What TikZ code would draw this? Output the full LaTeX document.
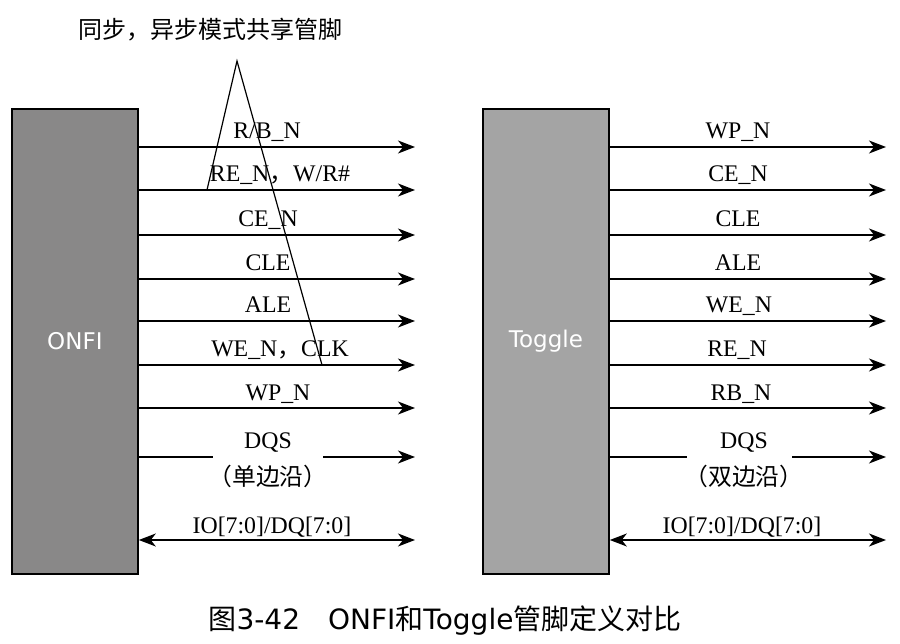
\documentclass[tikz,border=0pt]{standalone}
\usepackage{fontspec}
\setmainfont{Liberation Serif}
\setsansfont{DejaVu Sans}
\newfontfamily\cjk{Noto Sans CJK SC}
\usetikzlibrary{arrows.meta}

\definecolor{onfigray}{HTML}{898888}
\definecolor{togglegray}{HTML}{A4A4A4}

\tikzset{
  tip/.tip={Stealth[length=17pt,width=13pt,inset=5pt]},
  chip/.style={draw=black, line width=1.8pt, minimum width=126pt, minimum height=465pt,
    inner sep=0pt, text=white, font=\sffamily\fontsize{23}{26}\selectfont},
  sig/.style={line width=1.3pt, -tip},
  bus/.style={line width=1.3pt, tip-tip},
  plain/.style={line width=1.3pt},
  siglabel/.style={anchor=base, inner sep=0pt, font=\fontsize{23.8}{28}\selectfont},
  callout/.style={line width=1.2pt},
}

\begin{document}
\begin{tikzpicture}[x=1pt, y=-1pt]
  \useasboundingbox (0,0) rectangle (900,644);

  % the two chips
  \node[chip, fill=onfigray, anchor=north west] (onfi) at (11,108) {ONFI};
  \node[chip, fill=togglegray, anchor=north west] (toggle) at (482,108) {Toggle};

  % ONFI signals: line height / label centre / label
  \foreach \y/\x/\t [count=\i] in {
      147/267/{R/B\_N},
      190/280/{RE\_N{\cjk ，}W/R\#},
      235/268/{CE\_N},
      279/268/{CLE},
      321/268/{ALE},
      365/280/{WE\_N{\cjk ，}CLK},
      408/278/{WP\_N}} {
    \coordinate (oe\i) at (415,\y);
    \draw[sig] (onfi.east |- oe\i) -- (oe\i);
    \node[siglabel] (ol\i) at (\x,\y-8) {\t};
  }

  % Toggle signals
  \foreach \y/\x/\t [count=\i] in {
      147/738/{WP\_N},
      190/738/{CE\_N},
      235/738/{CLE},
      279/738/{ALE},
      321/739/{WE\_N},
      365/737/{RE\_N},
      408/741/{RB\_N}} {
    \coordinate (te\i) at (886,\y);
    \draw[sig] (toggle.east |- te\i) -- (te\i);
    \node[siglabel] (tl\i) at (\x,\y-8) {\t};
  }

  % DQS, drawn with a gap for its two-line label
  \coordinate (odqsA) at (213,457);
  \coordinate (odqsB) at (323,457);
  \coordinate (odqsE) at (415,457);
  \draw[plain] (onfi.east |- odqsA) -- (odqsA);
  \draw[sig] (odqsB) -- (odqsE);
  \node[siglabel] (odqs) at (268,448) {DQS};
  \node[siglabel] (odqsn) at (268,485) {\cjk （单边沿）};

  \coordinate (tdqsA) at (687,457);
  \coordinate (tdqsB) at (792,457);
  \coordinate (tdqsE) at (886,457);
  \draw[plain] (toggle.east |- tdqsA) -- (tdqsA);
  \draw[sig] (tdqsB) -- (tdqsE);
  \node[siglabel] (tdqs) at (744,448) {DQS};
  \node[siglabel] (tdqsn) at (744,485) {\cjk （双边沿）};

  % bidirectional data bus
  \coordinate (oio) at (415,540);
  \draw[bus] (onfi.east |- oio) -- (oio);
  \node[siglabel] (oiol) at (272,533) {IO[7:0]/DQ[7:0]};

  \coordinate (tio) at (886,540);
  \draw[bus] (toggle.east |- tio) -- (tio);
  \node[siglabel] (tiol) at (742,533) {IO[7:0]/DQ[7:0]};

  % callout marking the pins shared by both modes
  \node[font=\cjk\fontsize{24}{27}\selectfont, inner sep=0pt] (shared) at (210,30) {同步，异步模式共享管脚};
  \coordinate (apex) at (237,61);
  \coordinate (legL) at (207,190);
  \coordinate (legR) at (322,365);
  \draw[callout] (legL) -- (apex) -- (legR);

  % caption
  \node[font=\sffamily\fontsize{28}{32}\selectfont, inner sep=0pt] (caption) at (445,621)
    {{\cjk 图}3-42\hspace{1em}ONFI{\cjk 和}Toggle{\cjk 管脚定义对比}};
\end{tikzpicture}
\end{document}
